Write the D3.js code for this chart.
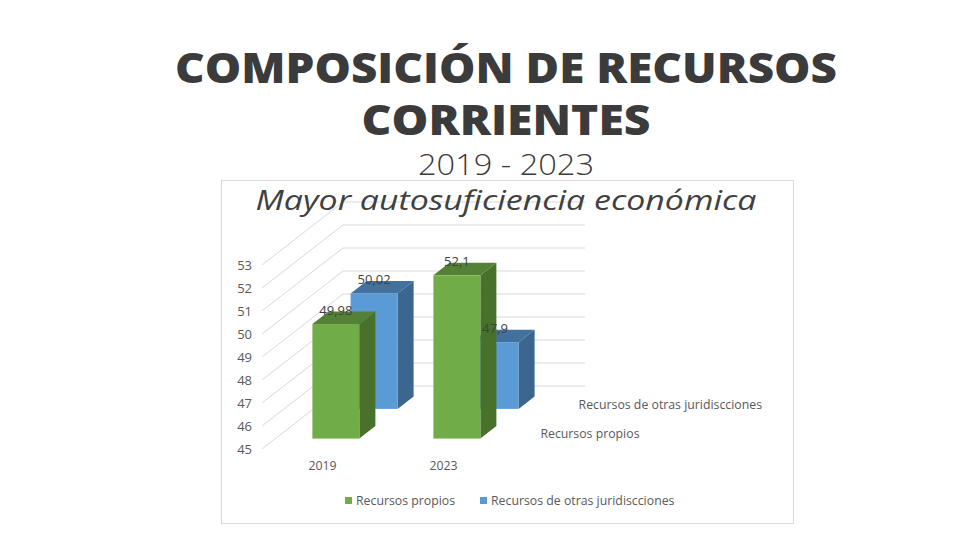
<!DOCTYPE html>
<html>
<head>
<meta charset="utf-8">
<script src="https://cdn.jsdelivr.net/npm/d3@7"></script>
<style>
  body { margin: 0; background: #fff; }
  svg text { font-family: "Open Sans", "Noto Sans", sans-serif; }
</style>
</head>
<body>
<svg width="953" height="537"></svg>
<script>
// Data
var years = ["2019", "2023"];
var seriesNames = ["Recursos propios", "Recursos de otras juridiscciones"];
var propios = [49.98, 52.1];
var otras = [50.02, 47.9];
var yTicks = [45, 46, 47, 48, 49, 50, 51, 52, 53];

var svg = d3.select("svg");

// colours per series: front, top, side
var colors = {
  "Recursos propios": { front: "#70ad47", top: "#538135", side: "#48722c" },
  "Recursos de otras juridiscciones": { front: "#5b9bd5", top: "#41719c", side: "#3a6690" }
};

// Scales (front plane) + depth vector for the oblique 3D look
var y = d3.scaleLinear().domain([45, 53]).range([449, 265]);
var x = d3.scaleBand().domain(years).range([262, 504])
  .paddingInner(0.612).paddingOuter(0.306);
var z = d3.scaleBand().domain(seriesNames).range([0, 1])
  .paddingInner(0.58).paddingOuter(0.35);
var DX = 81, DY = -63;

function proj(px, v, d) { return [px + d * DX, y(v) + d * DY]; }

// box
svg.append("rect")
  .attr("x", 221.5).attr("y", 180.5).attr("width", 572).attr("height", 343)
  .attr("fill", "#fff").attr("stroke", "#d9d9d9");

// back wall gridlines + side wall diagonals
var grid = svg.append("g").attr("stroke", "#d9d9d9").attr("stroke-width", 1);
yTicks.forEach(function(t) {
  var a = proj(262, t, 1), b = proj(504, t, 1);
  grid.append("line").attr("x1", a[0]).attr("y1", a[1]).attr("x2", b[0]).attr("y2", b[1]);
  var c = proj(262, t, 0);
  grid.append("line").attr("x1", c[0]).attr("y1", c[1]).attr("x2", a[0]).attr("y2", a[1]);
});

// y labels
svg.append("g").selectAll("text")
  .data(yTicks)
  .enter()
  .append("text")
    .attr("x", 252)
    .attr("y", function(d){ return y(d) + 4.5 })
    .attr("text-anchor", "end")
    .attr("font-size", 13)
    .attr("fill", "#595959")
    .text(function(d){ return d });

// bars: back row first
var rows = [
  { name: seriesNames[1], values: otras },
  { name: seriesNames[0], values: propios }
];

function pts(arr) { return arr.map(function(p){ return p.join(","); }).join(" "); }

var bars = svg.append("g");
rows.forEach(function(row) {
  var c = colors[row.name];
  var z0 = z(row.name), z1 = z0 + z.bandwidth();
  years.forEach(function(yr, i) {
    var v = row.values[i];
    var xl = x(yr), xr = xl + x.bandwidth();
    var g = bars.append("g");
    // side
    g.append("polygon").attr("fill", c.side)
      .attr("points", pts([proj(xr, 45, z0), proj(xr, 45, z1), proj(xr, v, z1), proj(xr, v, z0)]));
    // top
    g.append("polygon").attr("fill", c.top)
      .attr("points", pts([proj(xl, v, z0), proj(xr, v, z0), proj(xr, v, z1), proj(xl, v, z1)]));
    // front
    var p0 = proj(xl, v, z0), p1 = proj(xr, 45, z0);
    g.append("rect").attr("fill", c.front)
      .attr("x", p0[0]).attr("y", p0[1])
      .attr("width", p1[0] - p0[0]).attr("height", p1[1] - p0[1]);
  });
});

// value labels
rows.forEach(function(row) {
  var z0 = z(row.name);
  years.forEach(function(yr, i) {
    var v = row.values[i];
    var p = proj(x(yr) + x.bandwidth() / 2, v, z0);
    svg.append("text")
      .attr("x", p[0]).attr("y", p[1] - 9)
      .attr("text-anchor", "middle")
      .attr("font-size", 13)
      .attr("fill", "#404040")
      .text(String(v).replace(".", ","));
  });
});

// category labels
svg.append("g").selectAll("text")
  .data(years)
  .enter()
  .append("text")
    .attr("x", function(d){ return x(d) + x.bandwidth() / 2 })
    .attr("y", 470)
    .attr("text-anchor", "middle")
    .attr("font-size", 12.3)
    .attr("fill", "#595959")
    .text(function(d){ return d });

// depth axis labels
seriesNames.forEach(function(s) {
  var p = proj(504, 45, z(s) + z.bandwidth() / 2);
  svg.append("text")
    .attr("x", p[0] + 15).attr("y", p[1] + 6)
    .attr("font-size", 12.3)
    .attr("fill", "#595959")
    .text(s);
});

// legend
var legX = [345, 480];
seriesNames.forEach(function(s, i) {
  svg.append("rect").attr("x", legX[i]).attr("y", 497).attr("width", 7).attr("height", 7)
    .attr("fill", colors[s].front);
  svg.append("text").attr("x", legX[i] + 11).attr("y", 505)
    .attr("font-size", 12.3).attr("fill", "#595959").text(s);
});

// titles
svg.append("text").attr("x", 506).attr("y", 83).attr("text-anchor", "middle")
  .attr("font-size", 42).attr("font-weight", 800).attr("fill", "#3b3b3b")
  .attr("textLength", 662).attr("lengthAdjust", "spacingAndGlyphs")
  .text("COMPOSICIÓN DE RECURSOS");
svg.append("text").attr("x", 506).attr("y", 135).attr("text-anchor", "middle")
  .attr("font-size", 42).attr("font-weight", 800).attr("fill", "#3b3b3b")
  .attr("textLength", 289).attr("lengthAdjust", "spacingAndGlyphs")
  .text("CORRIENTES");
svg.append("text").attr("x", 506).attr("y", 175).attr("text-anchor", "middle")
  .attr("font-size", 30).attr("font-weight", 300).attr("fill", "#3b3b3b")
  .attr("textLength", 176).attr("lengthAdjust", "spacingAndGlyphs")
  .text("2019 - 2023");
svg.append("text").attr("x", 506).attr("y", 210).attr("text-anchor", "middle")
  .attr("font-size", 27).attr("font-style", "italic").attr("fill", "#404040")
  .attr("textLength", 501).attr("lengthAdjust", "spacingAndGlyphs")
  .text("Mayor autosuficiencia económica");
</script>
</body>
</html>
